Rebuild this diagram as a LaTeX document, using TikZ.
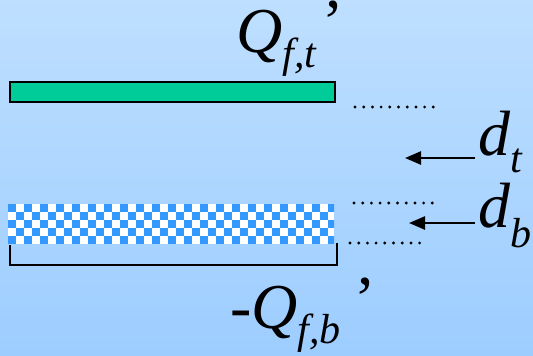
\documentclass[tikz,border=0pt]{standalone}
\usepackage{fontspec}
\setmainfont{Liberation Serif}
\usepackage{xcolor}
\definecolor{cBgTop}{HTML}{BEDFFF}
\definecolor{cBgBot}{HTML}{9DCDFF}
\definecolor{cPlate}{HTML}{00CC99}
\definecolor{cCheck}{HTML}{3399FF}
\usetikzlibrary{arrows.meta,calc}
\tikzset{
  plate-top/.style={draw=black,line width=2.5bp,fill=cPlate},
  plate-edge/.style={draw=black,line width=2.5bp},
  gap-dots/.style={line width=3.2bp,line cap=round,dash pattern=on 0bp off 8.7bp},
  lbl/.style={inner sep=0pt,font=\fontsize{64bp}{68bp}\selectfont\itshape},
  arrow/.style={-{Triangle[length=16bp,width=13bp]},line width=2.5bp},
}
\newcommand{\lblsub}[2][-15bp]{\raisebox{#1}{\fontsize{42bp}{44bp}\selectfont #2}}
\newcommand{\lblprime}[2][10bp]{\hspace{#2}\raisebox{#1}{\upshape ’}}

\begin{document}
\begin{tikzpicture}[x=1bp,y=-1bp]
  \shade[top color=cBgTop,bottom color=cBgBot] (0,0) rectangle (533,355);
  \useasboundingbox (0,0) rectangle (533,355);
  % top plate
  \draw[plate-top] (10,82) rectangle (335,102);
  % bottom plate: checkered layer and bracket
  \fill[white] (8,204) rectangle (334,244);
  \begin{scope}
    \clip (8,204) rectangle (334,244);
    \foreach \j in {0,...,4}{
      \foreach \i in {0,2,...,40}{
        \pgfmathtruncatemacro{\cx}{8+(\i+mod(\j,2))*8}
        \fill[cCheck] (\cx,204+\j*8) rectangle ++(8,8);
      }
    }
  \end{scope}
  \draw[plate-edge] (10,245) -- (10,265) -- (337,265) -- (337,243);
  % gap markers
  \draw[gap-dots] (355,107) -- (435,107);
  \draw[gap-dots] (354,203) -- (434,203);
  \draw[gap-dots] (350,243) -- (428,243);
  % labels
  \node[lbl,anchor=base west] (qt) at (236,52)
    {Q\lblsub{f,t}\lblprime[9bp]{6bp}};
  \node[lbl,anchor=base west] (qb) at (230,328)
    {\upshape -\itshape Q\lblsub{f,b}\lblprime[8bp]{14bp}};
  \node[lbl,anchor=base west,inner xsep=3bp] (dt) at (475,155)
    {d\lblsub[-17bp]{t}};
  \node[lbl,anchor=base west,inner xsep=3bp] (db) at (475,227)
    {d\lblsub[-20bp]{b}};
  \coordinate (dttip) at (405,158);
  \coordinate (dbtip) at (409,223);
  \draw[arrow] (dttip -| dt.west) -- (dttip);
  \draw[arrow] (dbtip -| db.west) -- (dbtip);
\end{tikzpicture}
\end{document}
